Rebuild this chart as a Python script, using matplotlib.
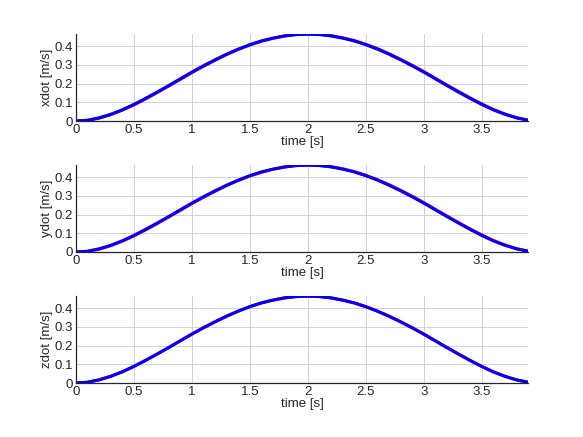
import matplotlib
matplotlib.use('Agg')
import matplotlib.pyplot as plt
from matplotlib.ticker import FuncFormatter

plt.rcParams['font.family'] = ['Liberation Sans', 'DejaVu Sans']

# time samples [s]
t = [0.0, 0.1, 0.2, 0.3, 0.4, 0.5, 0.6, 0.7, 0.8, 0.9,
     1.0, 1.1, 1.2, 1.3, 1.4, 1.5, 1.6, 1.7, 1.8, 1.9,
     2.0, 2.1, 2.2, 2.3, 2.4, 2.5, 2.6, 2.7, 2.8, 2.9,
     3.0, 3.1, 3.2, 3.3, 3.4, 3.5, 3.6, 3.7, 3.8, 3.9]

v_des = [0.000, 0.003, 0.015, 0.034, 0.058, 0.086, 0.118, 0.152, 0.187, 0.223,
         0.259, 0.293, 0.325, 0.356, 0.383, 0.407, 0.427, 0.443, 0.455, 0.463,
         0.465, 0.464, 0.457, 0.446, 0.431, 0.411, 0.388, 0.361, 0.331, 0.299,
         0.265, 0.229, 0.193, 0.158, 0.124, 0.092, 0.062, 0.038, 0.018, 0.005]
v_act = [0.000, 0.004, 0.017, 0.036, 0.060, 0.089, 0.121, 0.155, 0.190, 0.226,
         0.262, 0.296, 0.328, 0.358, 0.385, 0.409, 0.429, 0.444, 0.456, 0.463,
         0.465, 0.463, 0.456, 0.444, 0.429, 0.409, 0.385, 0.358, 0.328, 0.296,
         0.262, 0.226, 0.190, 0.155, 0.121, 0.089, 0.060, 0.036, 0.017, 0.004]

labels = ['xdot [m/s]', 'ydot [m/s]', 'zdot [m/s]']
# z: desired and measured coincide
desired = [v_des, v_des, v_act]
xticks = [0, 0.5, 1, 1.5, 2, 2.5, 3, 3.5]
yticks = [0, 0.1, 0.2, 0.3, 0.4]

fig = plt.figure(figsize=(5.83, 4.37), dpi=100)
fmt = FuncFormatter(lambda v, p: ('%g' % v))

bottoms = [121, 252, 383]
for lab, des, b in zip(labels, desired, bottoms):
    ax = fig.add_axes([76 / 583, 1 - b / 437, 452 / 583, 87 / 437])
    ax.plot(t, des, color='red', lw=2.2)
    ax.plot(t, v_act, color='blue', lw=2.2)
    ax.set_xlim(0, 3.9)
    ax.set_ylim(0, 0.466)
    ax.set_xticks(xticks)
    ax.set_yticks(yticks)
    ax.xaxis.set_major_formatter(fmt)
    ax.yaxis.set_major_formatter(fmt)
    ax.grid(True, color='#d2d2d2', lw=0.7)
    ax.set_axisbelow(True)
    for s in ['top', 'right']:
        ax.spines[s].set_visible(False)
    for s in ['left', 'bottom']:
        ax.spines[s].set_color('#262626')
        ax.spines[s].set_linewidth(0.9)
    ax.tick_params(length=0, labelsize=9.5, colors='#262626', pad=2)
    ax.set_xlabel('time [s]', fontsize=9.5, color='#262626', labelpad=0)
    ax.set_ylabel(lab, fontsize=9.5, color='#262626', labelpad=1)

fig.savefig('out.png', dpi=100)
